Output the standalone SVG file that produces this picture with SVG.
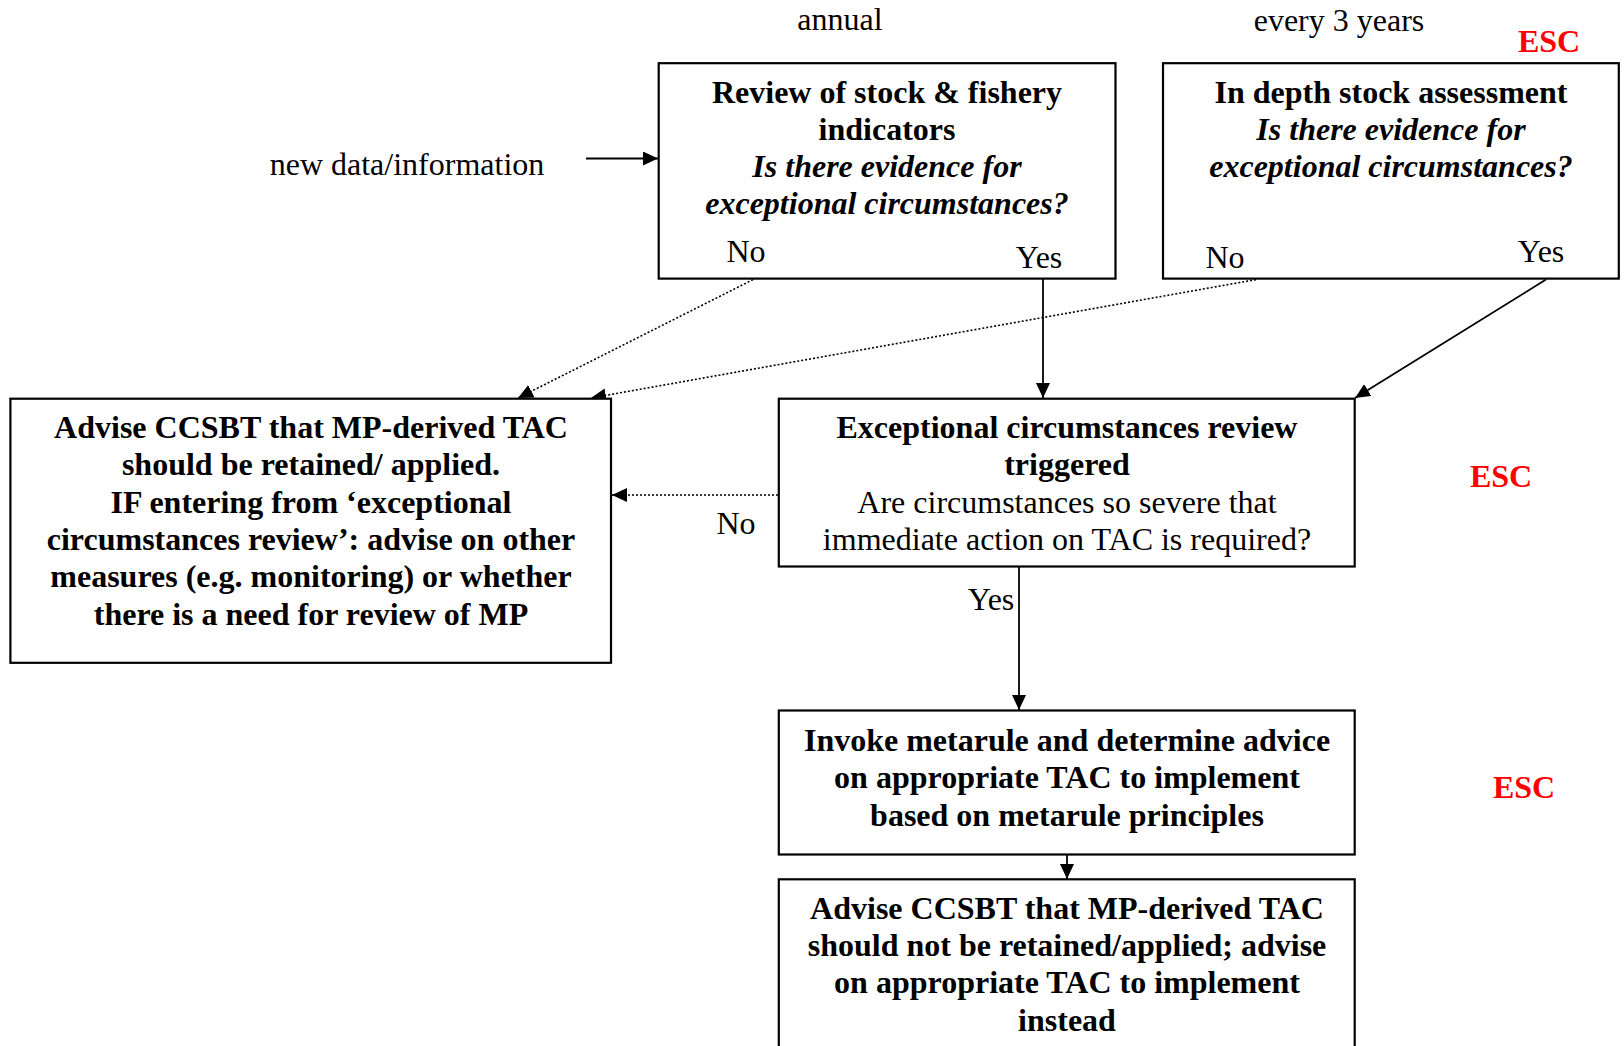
<svg xmlns="http://www.w3.org/2000/svg" width="1624" height="1046" viewBox="0 0 1624 1046">
<style>
text { font-family: "Liberation Serif", "Times New Roman", serif; font-size: 32px; fill: #000; }
.c { text-anchor: middle; }
.b { font-weight: bold; }
.bi { font-weight: bold; font-style: italic; }
.esc { font-weight: bold; fill: #ff0000; text-anchor: middle; }
.box { fill: #fff; stroke: #000; stroke-width: 2.2; }
.ln { fill: none; stroke: #000; stroke-width: 1.8; }
.dot { fill: none; stroke: #000; stroke-width: 1.6; stroke-dasharray: 2 2; }
</style>
<defs>
<marker id="ah" markerUnits="userSpaceOnUse" markerWidth="16" markerHeight="14" refX="15" refY="7" orient="auto">
<path d="M0,0 L15,7 L0,14 Z" fill="#000"/>
</marker>
</defs>
<rect width="1624" height="1046" fill="#fff"/>

<g id="labels">
<text class="c" x="840" y="30">annual</text>
<text class="c" x="1339" y="31">every 3 years</text>
<text class="esc" x="1549" y="52">ESC</text>
<text class="c" x="407" y="175">new data/information</text>
<text class="esc" x="1501" y="487">ESC</text>
<text class="esc" x="1524" y="798">ESC</text>
<text class="c" x="736" y="534">No</text>
<text class="c" x="991" y="610">Yes</text>
</g>

<g id="connectors">
<line class="ln" x1="586" y1="158.5" x2="658" y2="158.5" marker-end="url(#ah)"/>
<line class="dot" x1="753" y1="279.6" x2="518" y2="398" marker-end="url(#ah)"/>
<line class="dot" x1="1256" y1="279.6" x2="591" y2="398" marker-end="url(#ah)"/>
<line class="ln" x1="1043" y1="278.6" x2="1043" y2="398" marker-end="url(#ah)"/>
<line class="ln" x1="1546" y1="279.6" x2="1355" y2="398" marker-end="url(#ah)"/>
<line class="dot" x1="778" y1="495" x2="612" y2="495" marker-end="url(#ah)"/>
<line class="ln" x1="1019" y1="566.5" x2="1019" y2="710" marker-end="url(#ah)"/>
<line class="ln" x1="1067" y1="854.5" x2="1067" y2="879" marker-end="url(#ah)"/>
</g>

<g id="review">
<rect class="box" x="658.7" y="63.2" width="456.8" height="215.4"/>
<text class="c b" x="887" y="102.5">Review of stock &amp; fishery</text>
<text class="c b" x="887" y="139.8">indicators</text>
<text class="c bi" x="887" y="177">Is there evidence for</text>
<text class="c bi" x="887" y="214.3">exceptional circumstances?</text>
<text class="c" x="746" y="262">No</text>
<text class="c" x="1039" y="268">Yes</text>
</g>

<g id="indepth">
<rect class="box" x="1163" y="63.2" width="455.8" height="215.4"/>
<text class="c b" x="1391" y="102.5">In depth stock assessment</text>
<text class="c bi" x="1391" y="139.8">Is there evidence for</text>
<text class="c bi" x="1391" y="177">exceptional circumstances?</text>
<text class="c" x="1225" y="268">No</text>
<text class="c" x="1541" y="262">Yes</text>
</g>

<g id="retain">
<rect class="box" x="10.4" y="398.7" width="600.6" height="264.1"/>
<text class="c b" x="311" y="438">Advise CCSBT that MP-derived TAC</text>
<text class="c b" x="311" y="475.3">should be retained/ applied.</text>
<text class="c b" x="311" y="512.6">IF entering from ‘exceptional</text>
<text class="c b" x="311" y="549.9">circumstances review’: advise on other</text>
<text class="c b" x="311" y="587.2">measures (e.g. monitoring) or whether</text>
<text class="c b" x="311" y="624.5">there is a need for review of MP</text>
</g>

<g id="ecreview">
<rect class="box" x="778.8" y="398.7" width="575.9" height="167.8"/>
<text class="c b" x="1067" y="438">Exceptional circumstances review</text>
<text class="c b" x="1067" y="475.3">triggered</text>
<text class="c" x="1067" y="512.6">Are circumstances so severe that</text>
<text class="c" x="1067" y="549.9">immediate action on TAC is required?</text>
</g>

<g id="metarule">
<rect class="box" x="778.8" y="710.5" width="575.9" height="144"/>
<text class="c b" x="1067" y="751">Invoke metarule and determine advice</text>
<text class="c b" x="1067" y="788.3">on appropriate TAC to implement</text>
<text class="c b" x="1067" y="825.6">based on metarule principles</text>
</g>

<g id="notretain">
<rect class="box" x="778.8" y="879.3" width="575.9" height="180"/>
<text class="c b" x="1067" y="918.7">Advise CCSBT that MP-derived TAC</text>
<text class="c b" x="1067" y="956">should not be retained/applied; advise</text>
<text class="c b" x="1067" y="993.3">on appropriate TAC to implement</text>
<text class="c b" x="1067" y="1030.6">instead</text>
</g>
</svg>
